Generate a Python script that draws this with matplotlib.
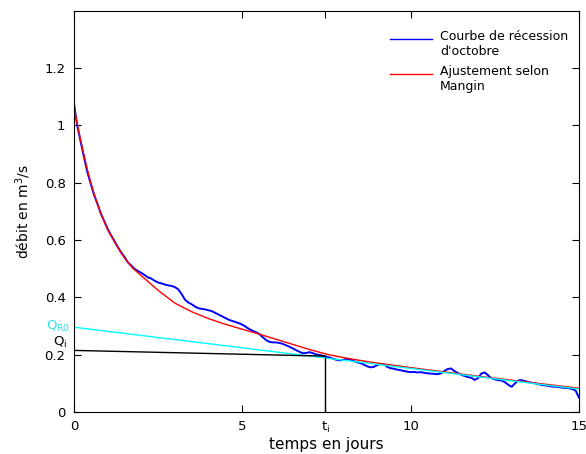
import numpy as np
import matplotlib
matplotlib.use("Agg")
import matplotlib.pyplot as plt

# Observed October recession (m3/s), sampled every 0.1 day
t_obs = np.round(np.arange(0, 15.01, 0.1), 2)
q_obs = [
    1.080, 1.000, 0.945, 0.890, 0.838, 0.797, 0.758, 0.727, 0.693, 0.667,
    0.640, 0.618, 0.598, 0.577, 0.558, 0.542, 0.523, 0.512, 0.500, 0.492,
    0.486, 0.478, 0.470, 0.466, 0.458, 0.452, 0.449, 0.445, 0.442, 0.440,
    0.436, 0.428, 0.412, 0.392, 0.382, 0.376, 0.368, 0.362, 0.360, 0.358,
    0.355, 0.352, 0.346, 0.340, 0.334, 0.328, 0.322, 0.318, 0.314, 0.310,
    0.305, 0.298, 0.290, 0.284, 0.279, 0.273, 0.262, 0.252, 0.245, 0.243,
    0.243, 0.241, 0.238, 0.233, 0.228, 0.222, 0.216, 0.210, 0.205, 0.206,
    0.209, 0.205, 0.201, 0.199, 0.196, 0.193, 0.190, 0.186, 0.182, 0.180,
    0.182, 0.186, 0.184, 0.178, 0.174, 0.171, 0.166, 0.160, 0.156, 0.157,
    0.163, 0.168, 0.167, 0.158, 0.153, 0.151, 0.148, 0.146, 0.143, 0.141,
    0.139, 0.140, 0.138, 0.139, 0.137, 0.135, 0.134, 0.133, 0.132, 0.135,
    0.143, 0.150, 0.152, 0.143, 0.136, 0.130, 0.126, 0.122, 0.120, 0.112,
    0.118, 0.134, 0.138, 0.128, 0.118, 0.114, 0.111, 0.110, 0.104, 0.095,
    0.088, 0.100, 0.110, 0.111, 0.108, 0.104, 0.102, 0.100, 0.097, 0.094,
    0.093, 0.091, 0.089, 0.088, 0.087, 0.085, 0.084, 0.083, 0.080, 0.075,
    0.050,
]

# Mangin model fit
t_fit = [0.0, 0.1, 0.2, 0.3, 0.4, 0.5, 0.6, 0.7, 0.8, 0.9, 1.0, 1.25, 1.5,
         1.75, 2.0, 2.5, 3.0, 3.5, 4.0, 4.5, 5.0, 5.5, 6.0, 6.5, 7.0, 7.5,
         8.0, 8.5, 9.0, 10.0, 11.0, 12.0, 13.0, 14.0, 15.0]
q_fit = [1.070, 1.005, 0.950, 0.897, 0.847, 0.802, 0.762, 0.726, 0.694,
         0.665, 0.638, 0.585, 0.538, 0.502, 0.476, 0.425, 0.380, 0.350,
         0.326, 0.306, 0.289, 0.272, 0.254, 0.236, 0.218, 0.202, 0.190,
         0.180, 0.171, 0.155, 0.140, 0.125, 0.111, 0.097, 0.083]

# Base-flow line from Q_R0, and the Q_i / t_i construction
t_base = [0.0, 15.0]
q_base = [0.296, 0.080]
t_i = 7.47
q_i_line = [0.215, 0.195]

BLUE, RED, CYAN = "#0000ff", "#ff0000", "#00ffff"

fig = plt.figure(figsize=(5.86, 4.54), dpi=100)
ax = fig.add_axes([0.126, 0.0925, 0.862, 0.8835])

ax.plot(t_obs, q_obs, color=BLUE, lw=1.4)
ax.plot(t_fit, q_fit, color=RED, lw=1.0)
ax.plot(t_base, q_base, color=CYAN, lw=1.0)
ax.plot([0, t_i], q_i_line, color="black", lw=1.0)
ax.plot([t_i, t_i], [q_i_line[1], 0], color="black", lw=1.0)

ax.set_xlim(0, 15)
ax.set_ylim(0, 1.4)
ax.set_xticks([0, 5, t_i, 10, 15])
ax.set_xticklabels(["0", "5", r"$\mathregular{t_i}$", "10", "15"])
ax.set_yticks([0, 0.2, 0.4, 0.6, 0.8, 1.0, 1.2])
ax.set_yticklabels(["0", "0.2", "0.4", "0.6", "0.8", "1", "1.2"])
ax.tick_params(direction="in", length=5, top=True, right=True, labelsize=9.5, pad=6)

ax.text(-0.008, 0.300, r"$\mathregular{Q_{R0}}$", transform=ax.get_yaxis_transform(),
        ha="right", va="center", color="#2ee0e0", fontsize=9.5)
ax.text(-0.012, 0.243, r"$\mathregular{Q_i}$", transform=ax.get_yaxis_transform(),
        ha="right", va="center", color="black", fontsize=9.5)

ax.set_xlabel("temps en jours", fontsize=11, labelpad=1)
ax.set_ylabel(r"débit en m$^3$/s", fontsize=10, labelpad=8)

# Legend: handle sits on the first line of each two-line label
legend_items = [
    (BLUE, 0.930, ["Courbe de récession", "d'octobre"], [0.937, 0.900]),
    (RED, 0.843, ["Ajustement selon", "Mangin"], [0.848, 0.812]),
]
for color, y_handle, lines, y_lines in legend_items:
    ax.plot([0.626, 0.709], [y_handle, y_handle], color=color, lw=1.0,
            transform=ax.transAxes, clip_on=False)
    for txt, yy in zip(lines, y_lines):
        ax.text(0.725, yy, txt, transform=ax.transAxes, ha="left", va="center",
                fontsize=9)

fig.savefig("out.png", dpi=100)
